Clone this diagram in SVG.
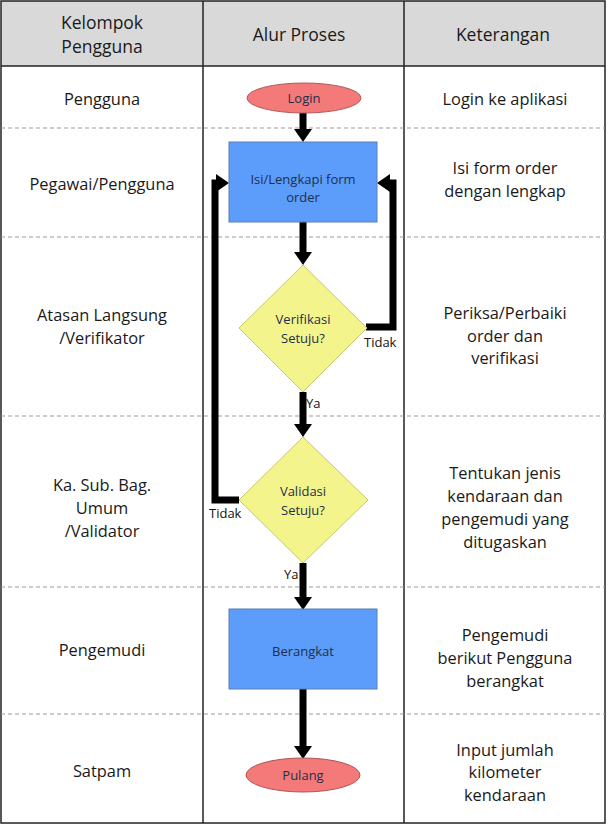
<svg xmlns="http://www.w3.org/2000/svg" width="608" height="824" viewBox="0 0 608 824">
<style>
text{font-family:"Open Sans","Noto Sans","Liberation Sans",sans-serif;fill:#1a1a1a;}
.h{font-size:17.5px;text-anchor:middle;dominant-baseline:central;}
.t{font-size:16.4px;text-anchor:middle;dominant-baseline:central;}
.s{font-size:13px;text-anchor:middle;dominant-baseline:central;fill:#1f2f4a;}
.l{font-size:13px;dominant-baseline:central;fill:#111;}
.grid{stroke:#222;stroke-width:1.5;fill:none;}
.dash{stroke:#999;stroke-width:1.2;stroke-dasharray:4 3;fill:none;}
.proc{fill:#5c9dfb;stroke:#5a7fb0;stroke-width:1;}
.term{fill:#f47a7a;stroke:#b05555;stroke-width:1;}
.dec{fill:#f4f48c;stroke:#c8c870;stroke-width:1;}
.c{stroke:#000;stroke-width:7;fill:none;stroke-linejoin:miter;}
</style>
<defs>
<marker id="ah" viewBox="0 0 13 18" refX="0" refY="9" markerWidth="13" markerHeight="18" markerUnits="userSpaceOnUse" orient="auto" overflow="visible">
<path d="M0,0 L13,9 L0,18 Z" fill="#000"/>
</marker>
</defs>
<g id="table">
<rect x="1" y="1" width="604" height="65" fill="#d9d9d9"/>
<rect x="1" y="1" width="604" height="822" class="grid"/>
<line x1="1" y1="66" x2="605" y2="66" class="grid"/>
<line x1="203" y1="1" x2="203" y2="823" class="grid"/>
<line x1="404" y1="1" x2="404" y2="823" class="grid"/>
<line x1="1" y1="128" x2="605" y2="128" class="dash"/>
<line x1="1" y1="237" x2="605" y2="237" class="dash"/>
<line x1="1" y1="416" x2="605" y2="416" class="dash"/>
<line x1="1" y1="587" x2="605" y2="587" class="dash"/>
<line x1="1" y1="714" x2="605" y2="714" class="dash"/>
<text class="h" x="102" y="22">Kelompok</text>
<text class="h" x="102" y="46">Pengguna</text>
<text class="h" x="299" y="34">Alur Proses</text>
<text class="h" x="503" y="34">Keterangan</text>
<text class="t" x="102" y="98">Pengguna</text>
<text class="t" x="102" y="183">Pegawai/Pengguna</text>
<text class="t" x="102" y="314">Atasan Langsung</text>
<text class="t" x="102" y="337">/Verifikator</text>
<text class="t" x="102" y="484">Ka. Sub. Bag.</text>
<text class="t" x="102" y="507">Umum</text>
<text class="t" x="102" y="530">/Validator</text>
<text class="t" x="102" y="649">Pengemudi</text>
<text class="t" x="102" y="770">Satpam</text>
<text class="t" x="505" y="98">Login ke aplikasi</text>
<text class="t" x="505" y="167">Isi form order</text>
<text class="t" x="505" y="190">dengan lengkap</text>
<text class="t" x="505" y="312">Periksa/Perbaiki</text>
<text class="t" x="505" y="335">order dan</text>
<text class="t" x="505" y="357">verifikasi</text>
<text class="t" x="505" y="472">Tentukan jenis</text>
<text class="t" x="505" y="495">kendaraan dan</text>
<text class="t" x="505" y="518">pengemudi yang</text>
<text class="t" x="505" y="541">ditugaskan</text>
<text class="t" x="505" y="634">Pengemudi</text>
<text class="t" x="505" y="657">berikut Pengguna</text>
<text class="t" x="505" y="680">berangkat</text>
<text class="t" x="505" y="749">Input jumlah</text>
<text class="t" x="505" y="771">kilometer</text>
<text class="t" x="505" y="794">kendaraan</text>
</g>
<g id="connectors">
<line x1="303" y1="113" x2="303" y2="129" class="c" marker-end="url(#ah)"/>
<line x1="303" y1="222" x2="303" y2="252" class="c" marker-end="url(#ah)"/>
<line x1="303" y1="392" x2="303" y2="424" class="c" marker-end="url(#ah)"/>
<line x1="303" y1="563" x2="303" y2="597" class="c" marker-end="url(#ah)"/>
<line x1="303" y1="689" x2="303" y2="746" class="c" marker-end="url(#ah)"/>
<polyline points="366,327 393,327 393,183 390,183" class="c" marker-end="url(#ah)"/>
<polyline points="239,500 215,500 215,183 216,183" class="c" marker-end="url(#ah)"/>
<text class="l" x="364" y="342">Tidak</text>
<text class="l" x="209" y="513">Tidak</text>
<text class="l" x="306" y="403">Ya</text>
<text class="l" x="284" y="574">Ya</text>
</g>
<g id="login">
<ellipse cx="304" cy="98" rx="57" ry="15" class="term"/>
<text class="s" x="304" y="98">Login</text>
</g>
<g id="isi-form">
<rect x="229" y="142" width="148" height="80" class="proc"/>
<text class="s" x="303" y="179">Isi/Lengkapi form</text>
<text class="s" x="303" y="197">order</text>
</g>
<g id="verifikasi">
<polygon points="303,265 367,328 303,392 239,328" class="dec"/>
<text class="s" x="303" y="319">Verifikasi</text>
<text class="s" x="303" y="338">Setuju?</text>
</g>
<g id="validasi">
<polygon points="303,437 368,500 303,563 239,500" class="dec"/>
<text class="s" x="303" y="491">Validasi</text>
<text class="s" x="303" y="510">Setuju?</text>
</g>
<g id="berangkat">
<rect x="229" y="609" width="148" height="80" class="proc"/>
<text class="s" x="303" y="651">Berangkat</text>
</g>
<g id="pulang">
<ellipse cx="303" cy="775" rx="57" ry="17" class="term"/>
<text class="s" x="303" y="775">Pulang</text>
</g>
</svg>
